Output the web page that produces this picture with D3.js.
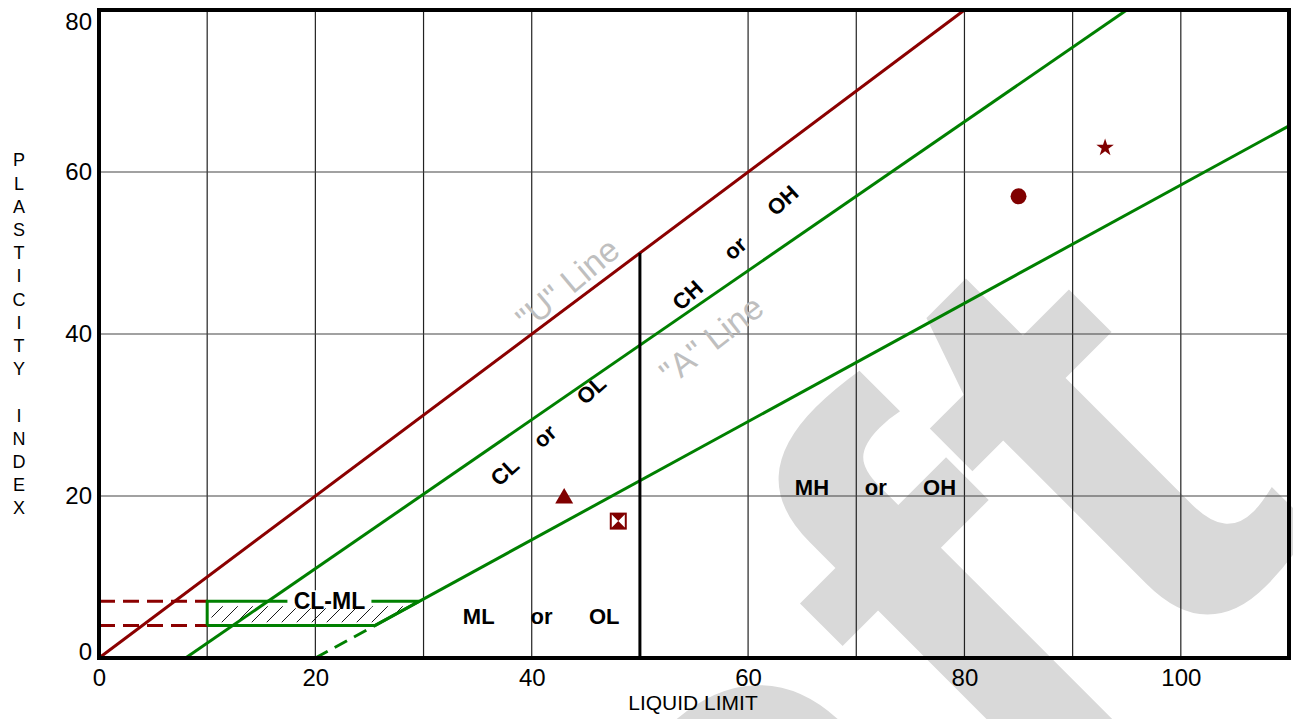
<!DOCTYPE html>
<html>
<head>
<meta charset="utf-8">
<script src="https://cdn.jsdelivr.net/npm/d3@7"></script>
<style>
  body { margin: 0; background: #fff; }
  text { font-family: "Liberation Sans", Arial, sans-serif; }
</style>
</head>
<body>
<svg class="chart" width="1293" height="719"></svg>
<script>
// tick labels and grid
const xTicks = [0, 20, 40, 60, 80, 100]
const yTicks = [0, 20, 40, 60, 80]
const xGrid = [10, 20, 30, 40, 60, 70, 80, 90, 100]
const yGrid = [20, 40, 60]

// classification lines (liquid limit, plasticity index)
const uLine = [[0, 0], [80, 80]]
const clLine = [[8, 0], [95, 80]]
const aLine = [[25.5, 4], [110, 65.7]]
const aLineDash = [[20, 0], [25.5, 4]]
const llDivide = [[50, 0], [50, 50]]
const clmlZone = [[10, 4], [25.5, 4], [29.6, 7], [10, 7], [10, 4]]
const clmlHatch = [[10.4, 4.4], [26, 4.4], [28.8, 6.4], [10.4, 6.4]]
const clmlLevels = [4, 7]

// samples
const samples = [
  {ll: 43, pi: 19.7, shape: 'triangle'},
  {ll: 48, pi: 16.9, shape: 'bowtie'},
  {ll: 85, pi: 57, shape: 'circle'},
  {ll: 93, pi: 63, shape: 'star'}
]

const zoneLabels = [
  {text: 'CL', ll: 37.5, pi: 23, angle: -42},
  {text: 'or', ll: 41.2, pi: 27.4, angle: -42},
  {text: 'OL', ll: 45.5, pi: 33.1, angle: -42},
  {text: 'CH', ll: 54.4, pi: 44.8, angle: -42},
  {text: 'or', ll: 58.8, pi: 50.6, angle: -42},
  {text: 'OH', ll: 63.2, pi: 56.5, angle: -42},
  {text: 'MH', ll: 65.9, pi: 21.1, angle: 0},
  {text: 'or', ll: 71.8, pi: 21.1, angle: 0},
  {text: 'OH', ll: 77.7, pi: 21.1, angle: 0},
  {text: 'ML', ll: 35.1, pi: 5.1, angle: 0},
  {text: 'or', ll: 40.9, pi: 5.1, angle: 0},
  {text: 'OL', ll: 46.7, pi: 5.1, angle: 0}
]
const lineLabels = [
  {text: '"U" Line', ll: 43.3, pi: 46.2, angle: -40},
  {text: '"A" Line', ll: 56.6, pi: 39.3, angle: -38}
]

const red = '#8b0000'
const green = '#008000'

const margin = {top: 10, right: 4, bottom: 61, left: 99}
const width = 1293 - margin.left - margin.right
const height = 719 - margin.top - margin.bottom

const x = d3.scaleLinear([0, 110], [0, width])
const y = d3.scaleLinear([0, 80], [height, 0])

const svg = d3.select('.chart')

// watermark (only the tail of "Draft" shows)
const wm = svg.append('g')
    .attr('font-size', 650)
    .attr('font-weight', 'bold')
    .attr('fill', '#d9d9d9')
wm.append('text')
    .text('Draf')
    .attr('transform', 'translate(1188,701) rotate(-45)')
    .attr('text-anchor', 'end')
wm.append('text')
    .text('t')
    .attr('transform', 'translate(1167,677) rotate(-45)')

const g = svg.append('g')
    .attr('transform', `translate(${margin.left},${margin.top})`)

// grid
g.selectAll('.vgrid')
    .data(xGrid)
    .join('line')
    .attr('x1', d => x(d)).attr('x2', d => x(d))
    .attr('y1', y(0)).attr('y2', y(80))
    .attr('stroke', '#222')
    .attr('stroke-width', 1.2)
g.selectAll('.hgrid')
    .data(yGrid)
    .join('line')
    .attr('x1', x(0)).attr('x2', x(110))
    .attr('y1', d => y(d)).attr('y2', d => y(d))
    .attr('stroke', '#444')
    .attr('stroke-width', 1.2)

const line = d3.line(d => x(d[0]), d => y(d[1]))

// hatch pattern for CL-ML
const pat = svg.append('defs').append('pattern')
    .attr('id', 'hatch')
    .attr('patternUnits', 'userSpaceOnUse')
    .attr('width', 15).attr('height', 15)
pat.append('path')
    .attr('d', 'M0,15 L15,0 M-4,4 L4,-4 M11,19 L19,11')
    .attr('stroke', '#000')
    .attr('stroke-width', 0.9)

g.append('path')
    .attr('d', line(clmlHatch) + 'Z')
    .attr('fill', 'url(#hatch)')

// red dashed levels
g.selectAll('.level')
    .data(clmlLevels)
    .join('line')
    .attr('x1', x(0)).attr('x2', x(10))
    .attr('y1', d => y(d)).attr('y2', d => y(d))
    .attr('stroke', red)
    .attr('stroke-width', 3)
    .attr('stroke-dasharray', '16,8')

g.append('path').attr('d', line(clmlZone))
    .attr('fill', 'none').attr('stroke', green).attr('stroke-width', 3)

g.append('path').attr('d', line(uLine))
    .attr('fill', 'none').attr('stroke', red).attr('stroke-width', 3)
g.append('path').attr('d', line(clLine))
    .attr('fill', 'none').attr('stroke', green).attr('stroke-width', 3)
g.append('path').attr('d', line(aLine))
    .attr('fill', 'none').attr('stroke', green).attr('stroke-width', 3)
g.append('path').attr('d', line(aLineDash))
    .attr('fill', 'none').attr('stroke', green).attr('stroke-width', 3)
    .attr('stroke-dasharray', '14,8')
g.append('path').attr('d', line(llDivide))
    .attr('fill', 'none').attr('stroke', '#000').attr('stroke-width', 3)

// CL-ML label with white box
const clml = g.append('g')
    .attr('transform', `translate(${x(21.3)},${y(7)})`)
clml.append('rect')
    .attr('x', -42).attr('y', -11).attr('width', 84).attr('height', 18)
    .attr('fill', '#fff')
clml.append('text')
    .text('CL-ML')
    .attr('text-anchor', 'middle')
    .attr('dy', '0.35em')
    .attr('font-size', 23)
    .attr('font-weight', 'bold')

// zone labels
g.selectAll('.zone')
    .data(zoneLabels)
    .join('text')
    .text(d => d.text)
    .attr('transform', d => `translate(${x(d.ll)},${y(d.pi)}) rotate(${d.angle})`)
    .attr('text-anchor', 'middle')
    .attr('dy', '0.35em')
    .attr('font-size', 22)
    .attr('font-weight', 'bold')

g.selectAll('.lineLabel')
    .data(lineLabels)
    .join('text')
    .text(d => d.text)
    .attr('transform', d => `translate(${x(d.ll)},${y(d.pi)}) rotate(${d.angle})`)
    .attr('text-anchor', 'middle')
    .attr('dy', '0.35em')
    .attr('font-size', 34)
    .attr('fill', '#bfbfbf')

// sample markers
const symbols = {triangle: d3.symbolTriangle, circle: d3.symbolCircle, star: d3.symbolStar}
const symSize = {triangle: 140, circle: 200, star: 95}
const marks = g.selectAll('.sample')
    .data(samples)
    .join('g')
    .attr('transform', d => `translate(${x(d.ll)},${y(d.pi)})`)
marks.filter(d => d.shape != 'bowtie')
    .append('path')
    .attr('d', d => d3.symbol(symbols[d.shape], symSize[d.shape])())
    .attr('fill', '#800000')
const bow = marks.filter(d => d.shape == 'bowtie')
bow.append('rect')
    .attr('x', -8.5).attr('y', -8.5).attr('width', 17).attr('height', 17)
    .attr('fill', '#800000')
bow.append('path')
    .attr('d', 'M-6.5,-6.5 L0,0 L-6.5,6.5 Z M6.5,-6.5 L0,0 L6.5,6.5 Z')
    .attr('fill', '#fff')

// border
g.append('rect')
    .attr('width', width).attr('height', height)
    .attr('fill', 'none')
    .attr('stroke', '#000')
    .attr('stroke-width', 4)

// axes
const xAxis = g.append('g')
    .attr('transform', `translate(0,${height})`)
    .call(d3.axisBottom(x).tickValues(xTicks).tickSize(0).tickPadding(11))
const yAxis = g.append('g')
    .call(d3.axisLeft(y).tickValues(yTicks).tickSize(0).tickPadding(7))
xAxis.select('.domain').remove()
yAxis.select('.domain').remove()
g.selectAll('.tick text')
    .attr('font-size', 24)
    .attr('font-family', '"Liberation Sans", Arial, sans-serif')
    .attr('fill', '#000')
yAxis.selectAll('.tick text')
    .filter(d => d == 80).attr('dy', '0.8em')
yAxis.selectAll('.tick text')
    .filter(d => d == 0).attr('dy', '0.08em')

svg.append('text')
    .text('LIQUID LIMIT')
    .attr('x', 693).attr('y', 710)
    .attr('text-anchor', 'middle')
    .attr('font-size', 21)

svg.append('g').selectAll('text')
    .data('PLASTICITY INDEX'.split(''))
    .join('text')
    .text(d => d)
    .attr('x', 19)
    .attr('y', (d, i) => 160 + i * 23.2)
    .attr('dy', '0.35em')
    .attr('text-anchor', 'middle')
    .attr('font-size', 18)
</script>
</body>
</html>
